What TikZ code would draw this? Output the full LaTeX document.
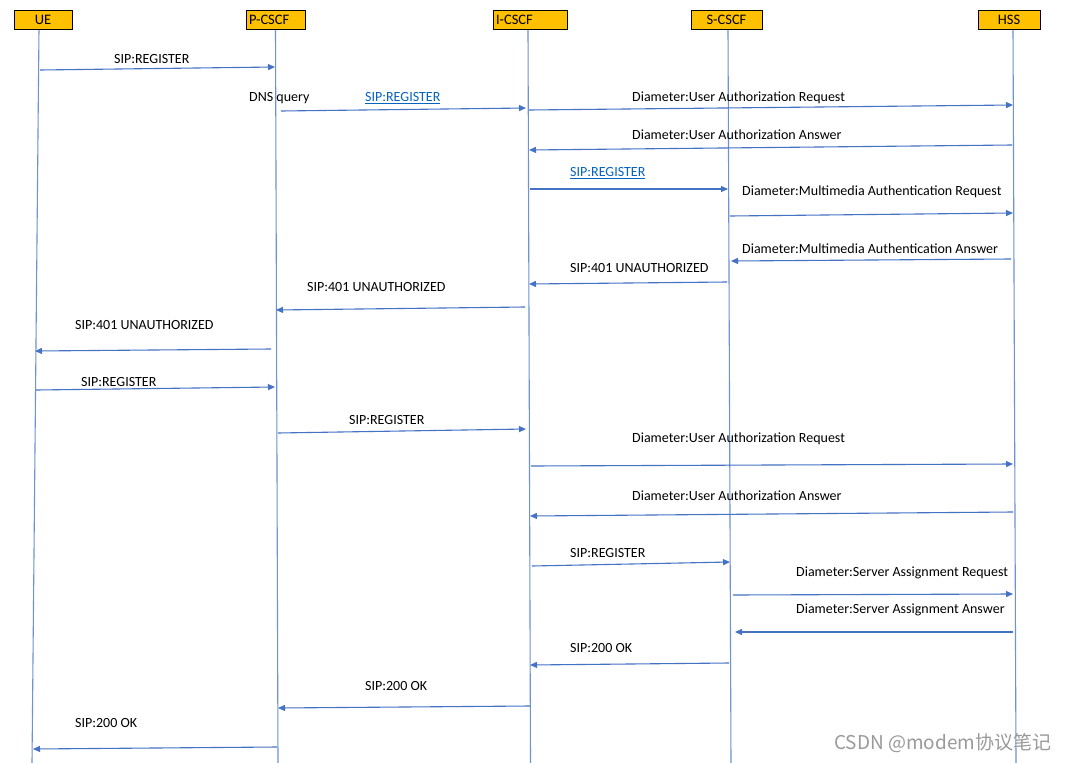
\documentclass[tikz,border=0pt]{standalone}
\usepackage{fontspec}
\setmainfont{Carlito}
\newfontfamily\cjkfont{Noto Sans CJK SC}
\usetikzlibrary{arrows.meta}
\definecolor{hdrfill}{HTML}{FFC000}
\definecolor{lifeclr}{HTML}{6E92D2}
\definecolor{msgclr}{HTML}{4472C4}
\definecolor{linkclr}{HTML}{0563C1}
\definecolor{wmclr}{HTML}{9A9A9A}
\tikzset{
  hdr/.style={draw=black, fill=hdrfill, line width=0.9pt, minimum height=19pt, inner sep=0pt, font=\fontsize{14.5}{16}\selectfont},
  hdrleft/.style={hdr, align=left, inner xsep=3pt},
  life/.style={draw=lifeclr, line width=1.1pt},
  msg/.style={draw=msgclr, line width=1.1pt, -{Triangle[length=7pt,width=6pt]}},
  lbl/.style={anchor=west, inner sep=0pt, yshift=-1pt, font=\fontsize{14}{16}\selectfont},
  lnk/.style={lbl, text=linkclr},
}
\newcommand\ul[1]{\underline{#1}}
\begin{document}
\begin{tikzpicture}[x=1pt,y=-1pt]
\useasboundingbox[fill=white] (0,0) rectangle (1066,763);
% lifeline ends
\coordinate (ueT) at (39,29);   \coordinate (ueB) at (32,763);
\coordinate (pT) at (275.5,29); \coordinate (pB) at (278,763);
\coordinate (iT) at (528,29);   \coordinate (iB) at (530.5,763);
\coordinate (sT) at (728,29);   \coordinate (sB) at (731,763);
\coordinate (hT) at (1013,29);  \coordinate (hB) at (1016,763);
\draw[life] (ueT) -- (ueB);
\draw[life] (pT) -- (pB);
\draw[life] (iT) -- (iB);
\draw[life] (sT) -- (sB);
\draw[life] (hT) -- (hB);
% headers
\node[hdr, minimum width=58pt] (ue) at (43,19.5) {UE};
\node[hdrleft, minimum width=59pt, text width=53pt] (pcscf) at (275.5,19.5) {P-CSCF};
\node[hdrleft, minimum width=74pt, text width=68pt] (icscf) at (530,19.5) {I-CSCF};
\node[hdr, minimum width=71pt] (scscf) at (726.5,19.5) {S-CSCF};
\node[hdr, minimum width=62pt] (hss) at (1009,19.5) {HSS};
% messages
\coordinate (m1a) at (40,70);    \coordinate (m1b) at (275,67);
\draw[msg] (m1a) -- (m1b);
\node[lbl] (l1) at (114,58) {SIP:REGISTER};

\node[lbl] (dns) at (249,97) {DNS query};
\coordinate (m2a) at (281,111);  \coordinate (m2b) at (526,108);
\draw[msg] (m2a) -- (m2b);
\node[lnk] (l2) at (365,97) {\ul{SIP:REGISTER}};

\coordinate (m3a) at (529,110);  \coordinate (m3b) at (1013,105);
\draw[msg] (m3a) -- (m3b);
\node[lbl] (l3) at (632,97) {Diameter:User Authorization Request};

\coordinate (m4a) at (1012,145); \coordinate (m4b) at (529,150);
\draw[msg] (m4a) -- (m4b);
\node[lbl] (l4) at (632,134) {Diameter:User Authorization Answer};

\coordinate (m5a) at (530,189);  \coordinate (m5b) at (728,189);
\draw[msg] (m5a) -- (m5b);
\node[lnk] (l5) at (570,172) {\ul{SIP:REGISTER}};

\coordinate (m6a) at (730,216);  \coordinate (m6b) at (1013,213);
\draw[msg] (m6a) -- (m6b);
\node[lbl] (l6) at (742,191) {Diameter:Multimedia Authentication Request};

\coordinate (m7a) at (1011,259); \coordinate (m7b) at (731,261);
\draw[msg] (m7a) -- (m7b);
\node[lbl] (l7) at (742,248) {Diameter:Multimedia Authentication Answer};

\coordinate (m8a) at (727,282);  \coordinate (m8b) at (529,284);
\draw[msg] (m8a) -- (m8b);
\node[lbl] (l8) at (570,267) {SIP:401 UNAUTHORIZED};

\coordinate (m9a) at (525,307);  \coordinate (m9b) at (276,310);
\draw[msg] (m9a) -- (m9b);
\node[lbl] (l9) at (307,286) {SIP:401 UNAUTHORIZED};

\coordinate (m10a) at (271,349); \coordinate (m10b) at (35,351);
\draw[msg] (m10a) -- (m10b);
\node[lbl] (l10) at (75,324) {SIP:401 UNAUTHORIZED};

\coordinate (m11a) at (36,390);  \coordinate (m11b) at (275,387);
\draw[msg] (m11a) -- (m11b);
\node[lbl] (l11) at (81,381) {SIP:REGISTER};

\coordinate (m12a) at (278,433); \coordinate (m12b) at (526,429);
\draw[msg] (m12a) -- (m12b);
\node[lbl] (l12) at (349,419) {SIP:REGISTER};

\coordinate (m13a) at (531,466); \coordinate (m13b) at (1013,464);
\draw[msg] (m13a) -- (m13b);
\node[lbl] (l13) at (632,438) {Diameter:User Authorization Request};

\coordinate (m14a) at (1013,512); \coordinate (m14b) at (530,516);
\draw[msg] (m14a) -- (m14b);
\node[lbl] (l14) at (632,495) {Diameter:User Authorization Answer};

\coordinate (m15a) at (532,566); \coordinate (m15b) at (730,562);
\draw[msg] (m15a) -- (m15b);
\node[lbl] (l15) at (570,552) {SIP:REGISTER};

\coordinate (m16a) at (733,595); \coordinate (m16b) at (1013,594);
\draw[msg] (m16a) -- (m16b);
\node[lbl] (l16) at (796,572) {Diameter:Server Assignment Request};

\coordinate (m17a) at (1013,632); \coordinate (m17b) at (735,632);
\draw[msg] (m17a) -- (m17b);
\node[lbl] (l17) at (796,609) {Diameter:Server Assignment Answer};

\coordinate (m18a) at (729,663); \coordinate (m18b) at (530,665);
\draw[msg] (m18a) -- (m18b);
\node[lbl] (l18) at (570,647) {SIP:200 OK};

\coordinate (m19a) at (530,706); \coordinate (m19b) at (278,708);
\draw[msg] (m19a) -- (m19b);
\node[lbl] (l19) at (365,685) {SIP:200 OK};

\coordinate (m20a) at (277,747); \coordinate (m20b) at (33,749);
\draw[msg] (m20a) -- (m20b);
\node[lbl] (l20) at (75,722) {SIP:200 OK};

% watermark
\node[anchor=west, inner sep=0pt, text=wmclr, font=\cjkfont\fontsize{19}{22}\selectfont] (wm) at (834,743) {CSDN @modem协议笔记};
\end{tikzpicture}
\end{document}
